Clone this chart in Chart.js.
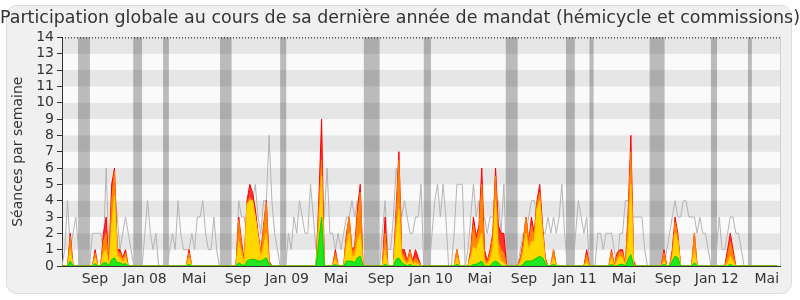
<!DOCTYPE html>
<html>
<head>
<meta charset="utf-8">
<script src="https://cdn.jsdelivr.net/npm/chart.js@4.4.1/dist/chart.umd.min.js"></script>
<style>
  html, body { margin: 0; padding: 0; background: #fff; }
  #wrap { width: 800px; height: 300px; }
</style>
</head>
<body>
<div id="wrap"><canvas id="participation"></canvas></div>
<script>
// one entry per week, from mid-June 2007 to mid-June 2012
const weeks = Array.from({length: 260}, (_, i) => i);

// median presence of all deputies (grey line)
const mediane = [
  0,1,4,1,2,3,1,0,0,0, 0,2,2,2,2,1,6,1,5,5, 3,1,2,3,2,1,0,0,0,0,
  2,4,2,1,2,0,0,0,0,1, 2,1,4,2,1,1,1,2,1,3, 3,4,2,1,1,3,1,0,0,0,
  0,0,0,0,4,3,3,2,3,4, 5,3,2,4,4,8,4,2,1,0, 0,0,2,1,3,2,4,3,2,2,
  5,3,1,1,2,3,6,2,2,1, 2,1,2,3,3,4,3,4,3,0, 0,0,0,0,0,0,2,4,1,1,
  3,6,5,3,4,3,2,2,3,3, 5,0,0,0,2,4,5,3,5,3, 0,0,2,5,5,5,0,1,3,5,
  3,4,2,3,2,3,3,3,4,2, 5,0,0,0,0,0,1,2,2,3, 4,4,3,3,2,2,3,2,3,2,
  3,5,2,0,0,0,2,4,3,2, 3,0,0,0,2,2,1,2,2,2, 1,0,2,2,4,4,3,3,3,3,
  3,1,0,0,0,0,0,0,0,1, 2,3,4,3,3,4,4,3,3,3, 2,3,2,2,1,0,0,1,3,1,
  1,2,3,3,2,2,1,0,0,0, 0,0,0,0,0,0,0,0,0,0
];

// stacked activity, each value is the height of the top of that layer
const rouge = [
  0,0,0,2,0,0,0,0,0,0, 0,0,1,0,0,2,3,0,5,6, 1,1,0.5,1,0,0,0,0,0,0,
  0,0,0,0,0,0,0,0,0,0, 0,0,0,0,0,0,1,0,0,0, 0,0,0,0,0,0,0,0,0,0,
  0,0,0,0,3,1.5,0.3,4,5,4.5, 3.5,2,0.8,2.5,4,0.3,0,0,0,0, 0,0,0,0,0,0,0,0,0,0,
  0,0,0,4,9,0,0,0,0,1, 0,0,0,2,3,1,1.2,3.5,5,0, 0,0,0,0,0,0,0,3,0,0,
  0,3.5,7,1,1,0.3,1,0.3,1,0.5, 0,0,0,0,0,0,0,0,0,0, 0,0,0,1,0,0,0,0,1,3,
  1.8,2.5,6,1,0.3,1,2,6,2.5,2, 2,0,0,0,0,0,0.5,1.5,3,1.5, 3,2,4,5,2.5,0.5,0,0,1,0,
  0,0,0,0,0,0,0,0,0,0, 1,0,0,0,0,0,0,0,0,1, 0,0.8,1,1,0,3.2,8,0.3,0,0,
  0,0,0,0,0,0,0,0,1,0, 0,1,3,2,0,0,0,0,0,2, 0,0,0,0,0,0,0,0,0,0,
  0,1,2,1,0,0,0,0,0,0, 0,0,0,0,0,0,0,0,0,0
];
const orange = [
  0,0,0,1.8,0,0,0,0,0,0, 0,0,0.8,0,0,1.5,2,0,4,5.8, 0.8,0.8,0.4,0.8,0,0,0,0,0,0,
  0,0,0,0,0,0,0,0,0,0, 0,0,0,0,0,0,0.8,0,0,0, 0,0,0,0,0,0,0,0,0,0,
  0,0,0,0,2.8,1.2,0.2,3.8,4.2,4, 3,1.8,0.6,2.3,3.9,0.2,0,0,0,0, 0,0,0,0,0,0,0,0,0,0,
  0,0,0,3.5,6.5,0,0,0,0,0.8, 0,0,0,1.8,3,0.9,1,3,4.5,0, 0,0,0,0,0,0,0,2,0,0,
  0,3,6.5,0.8,0.6,0.2,0.9,0.2,0.5,0.3, 0,0,0,0,0,0,0,0,0,0, 0,0,0,1,0,0,0,0,0.8,2.5,
  1.5,2.2,5,0.5,0.2,0.8,1.8,5.5,1.5,1, 0.8,0,0,0,0,0,0.4,1.3,3,1.3, 2.5,1.8,3.8,4.5,2.3,0.4,0,0,1,0,
  0,0,0,0,0,0,0,0,0,0, 0.7,0,0,0,0,0,0,0,0,0.9, 0,0.6,0.9,0.8,0,3,7,0.2,0,0,
  0,0,0,0,0,0,0,0,0.8,0, 0,0.8,2.7,1.8,0,0,0,0,0,2, 0,0,0,0,0,0,0,0,0,0,
  0,0.6,1.5,0.7,0,0,0,0,0,0, 0,0,0,0,0,0,0,0,0,0
];
const jaune = [
  0,0,0,1,0,0,0,0,0,0, 0,0,0.5,0,0,0.8,1,0,2.5,4.3, 0.6,0.5,0.2,0.5,0,0,0,0,0,0,
  0,0,0,0,0,0,0,0,0,0, 0,0,0,0,0,0,0.5,0,0,0, 0,0,0,0,0,0,0,0,0,0,
  0,0,0,0,1.5,0.8,0.1,3.8,4,4, 3,1.8,0.5,1.2,2,0.1,0,0,0,0, 0,0,0,0,0,0,0,0,0,0,
  0,0,0,2.5,5.5,0,0,0,0,0.4, 0,0,0,1.2,2,0.6,0.6,1.5,2,0, 0,0,0,0,0,0,0,1,0,0,
  0,2,3.5,0.6,0.3,0.1,0.5,0.1,0.2,0.1, 0,0,0,0,0,0,0,0,0,0, 0,0,0,0.5,0,0,0,0,0.5,1.2,
  1,1.5,2,0.2,0.1,0.4,1,4,0.8,0.3, 0.2,0,0,0,0,0,0.2,0.8,2,1, 1.5,1.5,3.5,4,2,0.3,0,0,0.5,0,
  0,0,0,0,0,0,0,0,0,0, 0.3,0,0,0,0,0,0,0,0,0.5, 0,0.3,0.6,0.5,0,1.5,5,0.1,0,0,
  0,0,0,0,0,0,0,0,0.3,0, 0,0.5,2,1.5,0,0,0,0,0,1, 0,0,0,0,0,0,0,0,0,0,
  0,0.2,0.6,0.3,0,0,0,0,0,0, 0,0,0,0,0,0,0,0,0,0
];
const vert = [
  0,0,0,0.3,0,0,0,0,0,0, 0,0,0.15,0,0,0.2,0.2,0,0.4,0.5, 0.2,0.2,0.1,0.15,0,0,0,0,0,0,
  0,0,0,0,0,0,0,0,0,0, 0,0,0,0,0,0,0.1,0,0,0, 0,0,0,0,0,0,0,0,0,0,
  0,0,0,0,0.2,0.1,0,0.3,0.4,0.4, 0.4,0.3,0.3,0.4,0.5,0.1,0,0,0,0, 0,0,0,0,0,0,0,0,0,0,
  0,0,0,1.5,3,0,0,0,0,0.1, 0,0,0,0.3,0.3,0.3,0.2,0.5,0.6,0, 0,0,0,0,0,0,0,0.1,0,0,
  0,0.4,0.5,0.2,0.1,0,0.1,0,0,0, 0,0,0,0,0,0,0,0,0,0, 0,0,0,0.1,0,0,0,0,0,0.1,
  0.1,0.2,0.3,0,0,0,0.2,0.3,0.2,0, 0,0,0,0,0,0,0,0.1,0.3,0.3, 0.3,0.4,0.5,0.6,0.5,0.2,0,0,0.1,0,
  0,0,0,0,0,0,0,0,0,0, 0,0,0,0,0,0,0,0,0,0.1, 0,0,0.1,0.1,0,0.4,0.7,0,0,0,
  0,0,0,0,0,0,0,0,0.1,0, 0,0.3,0.6,0.5,0,0,0,0,0,0.2, 0,0,0,0,0,0,0,0,0,0,
  0,0,0.1,0,0,0,0,0,0,0, 0,0,0,0,0,0,0,0,0,0
];

// parliamentary breaks, start and end week
const vacances = [
  [5.8, 10.1], [25.8, 29], [36.6, 38.7], [57.2, 61.4], [79, 81.2], [109.3, 115],
  [131, 133.6], [160.7, 165], [182.5, 185.7], [191, 192.5], [212.8, 218.2],
  [235, 237.2], [248.4, 249.8]
];

const moisSemaines = [11.9, 30, 47.8, 63.7, 81.5, 99.2, 115.5, 133.6, 151.3, 167.3, 185.7, 203.5, 219.4, 237.1, 255.2];
const moisLabels = ['Sep', 'Jan 08', 'Mai', 'Sep', 'Jan 09', 'Mai', 'Sep', 'Jan 10', 'Mai', 'Sep', 'Jan 11', 'Mai', 'Sep', 'Jan 12', 'Mai'];

Chart.defaults.font.family = '"DejaVu Sans", sans-serif';
Chart.defaults.color = '#333';

const fond = {
  id: 'fond',
  beforeDraw(chart) {
    const {ctx, chartArea: a, scales: {x, y}} = chart;
    ctx.save();
    ctx.fillStyle = '#f0f0f0';
    ctx.strokeStyle = '#dcdcdc';
    ctx.beginPath();
    ctx.roundRect(6.5, 5.5, 785, 288, 10);
    ctx.fill();
    ctx.stroke();
    for (let v = 0; v < 14; v++) {
      const t = y.getPixelForValue(v + 1), b = y.getPixelForValue(v);
      ctx.fillStyle = v % 2 ? '#e6e6e6' : '#fafafa';
      ctx.fillRect(a.left, t, a.right - a.left, b - t);
    }
    ctx.fillStyle = 'rgba(0,0,0,0.25)';
    vacances.forEach(([s, e]) => {
      const l = x.getPixelForValue(s), r = x.getPixelForValue(e);
      ctx.fillRect(l, a.top, r - l, a.bottom - a.top);
    });
    ctx.restore();
  },
  afterDraw(chart) {
    const {ctx, chartArea: a} = chart;
    ctx.save();
    ctx.strokeStyle = '#000';
    ctx.lineWidth = 1;
    ctx.setLineDash([1, 2]);
    ctx.beginPath();
    ctx.moveTo(a.left, a.top + 0.5);
    ctx.lineTo(a.right, a.top + 0.5);
    ctx.stroke();
    ctx.setLineDash([]);
    ctx.strokeStyle = '#d0d0d0';
    ctx.beginPath();
    ctx.moveTo(a.right + 0.5, a.top);
    ctx.lineTo(a.right + 0.5, a.bottom);
    ctx.stroke();
    ctx.restore();
  }
};

function couche(data, fill, line) {
  return {data, backgroundColor: fill, borderColor: line, borderWidth: 1, fill: 'origin', pointRadius: 0, tension: 0};
}

new Chart(document.getElementById('participation'), {
  type: 'line',
  data: {
    labels: weeks,
    datasets: [
      couche(vert, '#22e622', '#00d000'),
      couche(jaune, '#ffd700', '#ffc800'),
      couche(orange, '#ff8c00', '#ff8000'),
      couche(rouge, '#ff3030', '#ff0000'),
      {data: mediane, borderColor: '#b4b4b4', borderWidth: 1, fill: false, pointRadius: 0, tension: 0}
    ]
  },
  options: {
    responsive: true,
    maintainAspectRatio: false,
    animation: false,
    events: [],
    layout: {padding: 0},
    plugins: {
      legend: {display: false},
      tooltip: {enabled: false},
      title: {
        display: true,
        text: 'Participation globale au cours de sa dernière année de mandat (hémicycle et commissions)',
        font: {size: 17.8, weight: 'normal'},
        color: '#333',
        padding: {top: 8, bottom: 8}
      }
    },
    scales: {
      x: {
        type: 'linear',
        min: 0,
        max: 260,
        grid: {drawOnChartArea: false, drawTicks: false},
        border: {display: true, color: '#333'},
        afterBuildTicks: s => { s.ticks = moisSemaines.map(v => ({value: v})); },
        afterFit: s => { s.height = 34; },
        ticks: {
          autoSkip: false,
          maxRotation: 0,
          padding: 5,
          font: {size: 14},
          callback: v => moisLabels[moisSemaines.indexOf(v)]
        }
      },
      y: {
        min: 0,
        max: 14,
        grid: {drawOnChartArea: false, drawTicks: true, tickLength: 5, color: '#333'},
        border: {display: true, color: '#333'},
        afterFit: s => { s.width = 62; },
        ticks: {stepSize: 1, autoSkip: false, maxTicksLimit: 20, padding: 3, font: {size: 14}},
        title: {display: true, text: 'Séances par semaine', font: {size: 14}, padding: {top: 10, bottom: 0}}
      },
      marge: {
        position: 'right',
        min: 0,
        max: 1,
        grid: {display: false},
        border: {display: false},
        ticks: {display: false},
        afterFit: s => { s.width = 20; }
      }
    }
  },
  plugins: [fond]
});
</script>
</body>
</html>
